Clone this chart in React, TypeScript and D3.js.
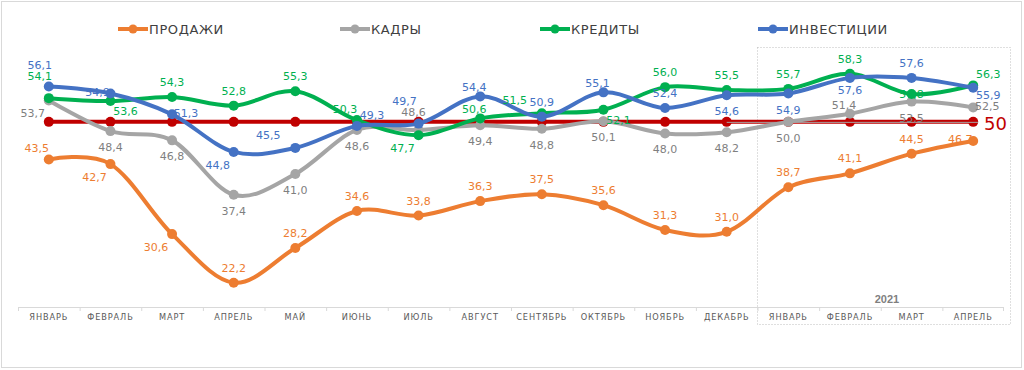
import React from "react";
import * as d3 from "d3";

const months = ["ЯНВАРЬ","ФЕВРАЛЬ","МАРТ","АПРЕЛЬ","МАЙ","ИЮНЬ","ИЮЛЬ","АВГУСТ","СЕНТЯБРЬ","ОКТЯБРЬ","НОЯБРЬ","ДЕКАБРЬ","ЯНВАРЬ","ФЕВРАЛЬ","МАРТ","АПРЕЛЬ"];
const sales = [43.5,42.7,30.6,22.2,28.2,34.6,33.8,36.3,37.5,35.6,31.3,31.0,38.7,41.1,44.5,46.7];
const staff = [53.7,48.4,46.8,37.4,41.0,48.6,48.6,49.4,48.8,50.1,48.0,48.2,50.0,51.4,53.5,52.5];
const credits = [54.1,53.6,54.3,52.8,55.3,50.3,47.7,50.6,51.5,52.1,56.0,55.5,55.7,58.3,54.8,56.3];
const invest = [56.1,54.9,51.3,44.8,45.5,49.3,49.7,54.4,50.9,55.1,52.4,54.6,54.9,57.6,57.6,55.9];
const threshold = 50;
const yearLabel = "2021";

// label placement codes (per point)
const salesPos = ["TL","BL","BL","T","T","T","T","T","T","T","T","T","T","T","T","L"];
const staffPos = ["BL","B","B","B","B","B","T2","B","B","B","B","B","B","TS","B","R"];
const creditsPos = ["TL2","BR","T","T","T","TL","BL","TS","TLL","BR","T","T","T","T","C","TR"];
const investPos = ["TL2","L","R","BL","TLL","TR","TL3","TS","T","TS","T","B","B","B2","T","BR2"];

const OFF: Record<string, [number, number]> = {
  T: [0, -11], TS: [-6, -5], T2: [-5, -14], TL: [-12, -7], TLL: [-27, -9], TL2: [-9, -18], TL3: [-14, -19],
  TR: [15, -7], B: [0, 20], B2: [0, 16], BL: [-16, 17], BR: [15, 14], BR2: [15, 11], L: [-13, 2], R: [14, 3], C: [0, 4],
};

const series = [
  { name: "ПРОДАЖИ", values: sales, pos: salesPos, color: "#ED7D31", label: "#ED7D31" },
  { name: "КАДРЫ", values: staff, pos: staffPos, color: "#A5A5A5", label: "#7F7F7F" },
  { name: "КРЕДИТЫ", values: credits, pos: creditsPos, color: "#00B050", label: "#00B050" },
  { name: "ИНВЕСТИЦИИ", values: invest, pos: investPos, color: "#4472C4", label: "#4472C4" },
];
const legendX = [118, 340, 540, 758];

const W = 1024, H = 370;
const FONT = "'DejaVu Sans', Verdana, sans-serif";

export default function App() {
  const x = d3.scaleBand<number>().domain(d3.range(months.length)).range([18, 1004]);
  const cx = (i: number) => (x(i) as number) + x.bandwidth() / 2;
  const y = d3.scaleLinear().domain([18, 60]).range([307, 64]);
  const line = d3.line<number>().x((_, i) => cx(i)).y((v) => y(v)).curve(d3.curveCardinal.tension(0));
  const straight = d3.line<number>().x((_, i) => cx(i)).y((v) => y(v));
  const thr = months.map(() => threshold);
  const fmt = (v: number) => v.toFixed(1).replace(".", ",");
  const drawOrder = [1, 2, 3, 0];

  return (
    <svg width={W} height={H} style={{ position: "absolute", left: 0, top: 0, background: "#fff" }} fontFamily={FONT}>
      <rect x={1.5} y={1.5} width={W - 4} height={H - 4} fill="#fff" stroke="#D9D9D9" />
      {/* legend */}
      {series.map((s, k) => (
        <g key={s.name}>
          <line x1={legendX[k]} x2={legendX[k] + 30} y1={29} y2={29} stroke={s.color} strokeWidth={4} />
          <circle cx={legendX[k] + 15} cy={29} r={4.5} fill={s.color} />
          <text x={legendX[k] + 31} y={34} fontSize={13} fill="#404040" letterSpacing={0.6}>{s.name}</text>
        </g>
      ))}
      {/* 2021 box */}
      <rect x={757.5} y={47.5} width={253} height={277} fill="none" stroke="#BFBFBF" strokeDasharray="1,2" />
      <text x={887} y={303} textAnchor="middle" fontSize={11} fontWeight="bold" fill="#7F7F7F" fontFamily="'Liberation Sans', Arial, sans-serif">{yearLabel}</text>
      {/* axis */}
      <line x1={18} x2={1004} y1={307.5} y2={307.5} stroke="#D9D9D9" />
      {months.map((_, i) => (
        <line key={"t" + i} x1={(x(i) as number) + 0.5} x2={(x(i) as number) + 0.5} y1={307} y2={311} stroke="#D9D9D9" />
      ))}
      <line x1={1003.5} x2={1003.5} y1={307} y2={311} stroke="#D9D9D9" />
      {months.map((m, i) => (
        <text key={"m" + i} x={cx(i)} y={320} textAnchor="middle" fontSize={8.2} letterSpacing={0.9} fill="#595959">{m}</text>
      ))}
      {/* threshold */}
      <path d={straight(thr) || ""} fill="none" stroke="#C00000" strokeWidth={4} />
      {thr.map((v, i) => (
        <circle key={"r" + i} cx={cx(i)} cy={y(v)} r={5} fill="#C00000" />
      ))}
      <line x1={cx(11)} x2={cx(15) + 5} y1={y(threshold) + 0.5} y2={y(threshold) + 0.5} stroke="#A6A6A6" strokeWidth={1} />
      <text x={984} y={130} fontSize={18} fill="#C00000">{threshold}</text>
      {/* series */}
      {drawOrder.map((k) => {
        const s = series[k];
        return (
          <g key={s.name}>
            <path d={line(s.values) || ""} fill="none" stroke={s.color} strokeWidth={4} strokeLinecap="round" />
            {s.values.map((v, i) => (
              <circle key={i} cx={cx(i)} cy={y(v)} r={5} fill={s.color} />
            ))}
          </g>
        );
      })}
      {drawOrder.map((k) => {
        const s = series[k];
        return (
          <g key={"l" + s.name}>
            {s.values.map((v, i) => {
              const o = OFF[s.pos[i]] || OFF.T;
              return (
                <text key={i} x={cx(i) + o[0]} y={y(v) + o[1]} textAnchor="middle" fontSize={11} fill={s.label}>{fmt(v)}</text>
              );
            })}
          </g>
        );
      })}
    </svg>
  );
}
